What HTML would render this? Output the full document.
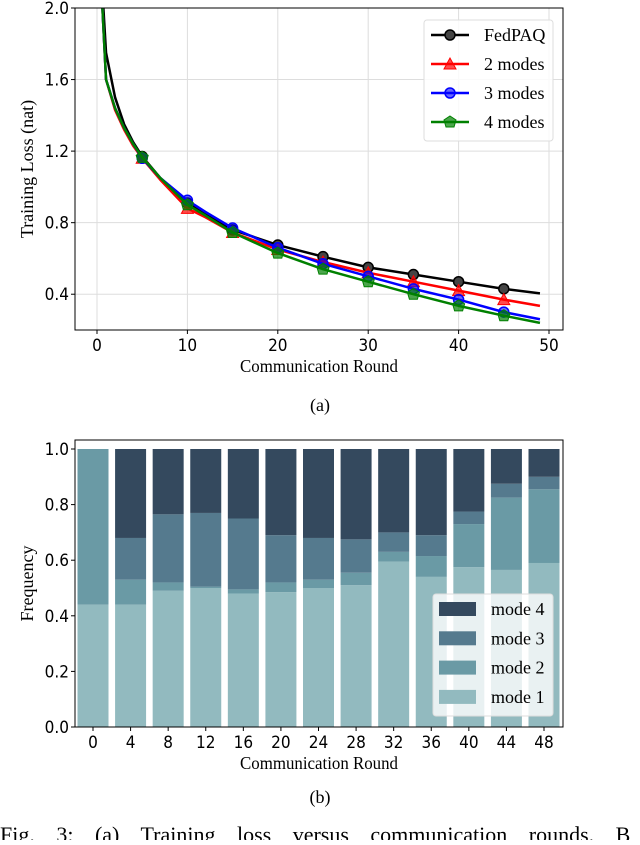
<!DOCTYPE html>
<html><head><meta charset="utf-8">
<style>
body{margin:0;background:#fff;width:640px;height:840px;overflow:hidden}
svg text{font-family:"Liberation Serif",serif}
.tk{font-family:"DejaVu Sans Condensed","DejaVu Sans","Liberation Sans",sans-serif;font-stretch:condensed;font-size:17px;fill:#000}
</style></head>
<body>
<svg id="chart" width="640" height="840" xmlns="http://www.w3.org/2000/svg">
<defs>
<clipPath id="clipA"><rect x="75" y="8" width="488" height="322"/></clipPath>
</defs>
<g id="topChart"></g>
<g id="botChart"></g>
<text x="320" y="411" text-anchor="middle" font-size="18">(a)</text>
<text x="320" y="803" text-anchor="middle" font-size="18">(b)</text>
<text x="0" y="842" font-size="22" word-spacing="16">Fig. 3: (a) Training loss versus communication rounds. B</text>
</svg>
<script>
// ---- Chart (a) data ----
const lossRounds = [0,1,2,3,4,5,7,10,12,15,20,25,30,35,40,45,49];
const fedpaq =  [2.6,1.75,1.5,1.35,1.25,1.17,1.05,0.91,0.85,0.76,0.675,0.61,0.55,0.51,0.47,0.43,0.405];
const modes2 =  [2.6,1.6,1.43,1.32,1.23,1.16,1.04,0.88,0.83,0.745,0.65,0.58,0.52,0.47,0.42,0.37,0.335];
const modes3 =  [2.6,1.6,1.44,1.33,1.24,1.16,1.05,0.925,0.86,0.77,0.66,0.57,0.50,0.43,0.37,0.30,0.26];
const modes4 =  [2.6,1.6,1.44,1.33,1.24,1.165,1.05,0.90,0.84,0.745,0.63,0.54,0.47,0.40,0.335,0.28,0.24];
const markerRounds = [5,10,15,20,25,30,35,40,45];
const lossYTicks = [0.4,0.8,1.2,1.6,2.0];
const lossXTicks = [0,10,20,30,40,50];
// ---- Chart (b) data ----
const barRounds = ["0","4","8","12","16","20","24","28","32","36","40","44","48"];
const mode1 = [0.44,0.44,0.49,0.50,0.48,0.485,0.50,0.51,0.595,0.54,0.575,0.565,0.59];
const mode2 = [0.56,0.09,0.03,0.005,0.015,0.035,0.03,0.045,0.035,0.075,0.155,0.26,0.265];
const mode3 = [0.00,0.15,0.245,0.265,0.255,0.17,0.15,0.12,0.07,0.075,0.045,0.05,0.045];
const mode4 = [0.00,0.32,0.235,0.23,0.25,0.31,0.32,0.325,0.30,0.31,0.225,0.125,0.10];
const freqYTicks = [0.0,0.2,0.4,0.6,0.8,1.0];

const NS="http://www.w3.org/2000/svg";
function mk(parent,tag,attrs,text){const e=document.createElementNS(NS,tag);for(const k in attrs)e.setAttribute(k,attrs[k]);if(text!==undefined)e.textContent=text;parent.appendChild(e);return e;}

// ===== Chart (a) =====
const topG=document.getElementById('topChart');
const L=75,R=563,T=8,B=330;
const ax=v=>97+(v-0)*(549-97)/50;
const ay=v=>330-(v-0.2)*(330-8)/1.8;
lossXTicks.forEach(t=>{
  const g=mk(topG,'line',{x1:ax(t),x2:ax(t),y1:T,y2:B,stroke:'#ddd','stroke-width':1});
  
  const tl=mk(topG,'line',{x1:ax(t),x2:ax(t),y1:B,y2:B+4,stroke:'#000'});
  
  const tx=mk(topG,'text',{x:ax(t),y:B+21,'text-anchor':'middle',class:'tk'},String(t));
  
});
lossYTicks.forEach(t=>{
  const g=mk(topG,'line',{x1:L,x2:R,y1:ay(t),y2:ay(t),stroke:'#ddd','stroke-width':1});
  
  const tl=mk(topG,'line',{x1:L-4,x2:L,y1:ay(t),y2:ay(t),stroke:'#000'});
  
  const tx=mk(topG,'text',{x:L-6,y:ay(t)+6,'text-anchor':'end',class:'tk'},t.toFixed(1));
  
});
const series=[
 {name:'FedPAQ',vals:fedpaq,color:'#000',m:'circle'},
 {name:'2 modes',vals:modes2,color:'#ff0000',m:'tri'},
 {name:'3 modes',vals:modes3,color:'#0000ff',m:'x'},
 {name:'4 modes',vals:modes4,color:'#008000',m:'pent'}];
function marker(g,m,x,y,c){
  let e;
  if(m==='circle') e=mk(g,'circle',{cx:x,cy:y,r:5,fill:'#444',stroke:c,'stroke-width':1.5});
  else if(m==='tri') e=mk(g,'polygon',{points:`${x},${y-6} ${x-6},${y+5} ${x+6},${y+5}`,fill:c,'fill-opacity':0.7,stroke:c});
  else if(m==='x') e=mk(g,'circle',{cx:x,cy:y,r:5,fill:c,'fill-opacity':0.6,stroke:c,'stroke-width':1.5});
  else e=mk(g,'polygon',{points:`${x},${y-6} ${x+6},${y-2} ${x+4},${y+5} ${x-4},${y+5} ${x-6},${y-2}`,fill:c,'fill-opacity':0.7,stroke:c});
  return e;
}
series.forEach(s=>{
  const g=mk(topG,'g',{'clip-path':'url(#clipA)'});
  
  
  const pts=lossRounds.map((r,i)=>ax(r)+','+ay(s.vals[i])).join(' ');
  const pl=mk(g,'polyline',{points:pts,fill:'none',stroke:s.color,'stroke-width':2.5,'stroke-linejoin':'round'});
  
  markerRounds.forEach(r=>{
    const i=lossRounds.indexOf(r);
    const e=marker(g,s.m,ax(r),ay(s.vals[i]),s.color);
    
  });
});
const fa=mk(topG,'rect',{x:L,y:T,width:R-L,height:B-T,fill:'none',stroke:'#000','stroke-width':1});

const xa=mk(topG,'text',{x:(L+R)/2,y:372,'text-anchor':'middle','font-size':18,textLength:158,lengthAdjust:'spacingAndGlyphs'},'Communication Round');

const ya=mk(topG,'text',{x:0,y:0,'text-anchor':'middle','font-size':18,transform:`translate(33,${(T+B)/2}) rotate(-90)`},'Training Loss (nat)');

const lg=mk(topG,'g',{});

mk(lg,'rect',{x:424,y:20,width:129,height:121,rx:3,fill:'#fff','fill-opacity':0.85,stroke:'#ddd'});
series.forEach((s,i)=>{
  const y=35+i*29;
  const en=mk(lg,'g',{});
  
  mk(en,'line',{x1:431,x2:469,y1:y,y2:y,stroke:s.color,'stroke-width':2.5});
  marker(en,s.m,450,y,s.color);
  mk(en,'text',{x:484,y:y+6,'font-size':18},s.name);
});

// ===== Chart (b) =====
const botG=document.getElementById('botChart');
const BL=75,BR=563,BT=440,BB=727;
const bx=i=>93+i*(544-93)/12;
const by=v=>727-v*(727-449);
const bw=31;
freqYTicks.forEach(t=>{
  const tl=mk(botG,'line',{x1:BL-4,x2:BL,y1:by(t),y2:by(t),stroke:'#000'});
  
  const tx=mk(botG,'text',{x:BL-6,y:by(t)+6,'text-anchor':'end',class:'tk'},t.toFixed(1));
  
});
const layers=[{name:'mode 1',vals:mode1,c:'#92babf'},{name:'mode 2',vals:mode2,c:'#6a9aa5'},{name:'mode 3',vals:mode3,c:'#557a8e'},{name:'mode 4',vals:mode4,c:'#34495e'}];
barRounds.forEach((lab,i)=>{
  let base=0;
  layers.forEach(l=>{
    const v=l.vals[i];
    if(v>0){
      const r=mk(botG,'rect',{x:bx(i)-bw/2,y:by(base+v),width:bw,height:by(base)-by(base+v),fill:l.c});
      
      
    }
    base+=v;
  });
  const tl=mk(botG,'line',{x1:bx(i),x2:bx(i),y1:BB,y2:BB+4,stroke:'#000'});
  
  const tx=mk(botG,'text',{x:bx(i),y:BB+21,'text-anchor':'middle',class:'tk'},lab);
  
});
const fb=mk(botG,'rect',{x:BL,y:BT,width:BR-BL,height:BB-BT,fill:'none',stroke:'#000','stroke-width':1});

const bxa=mk(botG,'text',{x:(BL+BR)/2,y:769,'text-anchor':'middle','font-size':18,textLength:158,lengthAdjust:'spacingAndGlyphs'},'Communication Round');

const bya=mk(botG,'text',{x:0,y:0,'text-anchor':'middle','font-size':18,transform:`translate(33,${(BT+BB)/2}) rotate(-90)`},'Frequency');

const blg=mk(botG,'g',{});

mk(blg,'rect',{x:433,y:594,width:120,height:122,rx:3,fill:'#fff','fill-opacity':0.8,stroke:'#ddd'});
[3,2,1,0].forEach((li,k)=>{
  const l=layers[li];const y=609+k*29.3;
  const en=mk(blg,'g',{});
  
  mk(en,'rect',{x:439,y:y-7,width:37,height:14,fill:l.c});
  mk(en,'text',{x:491,y:y+6,'font-size':18},l.name);
});
</script>
</body></html>
